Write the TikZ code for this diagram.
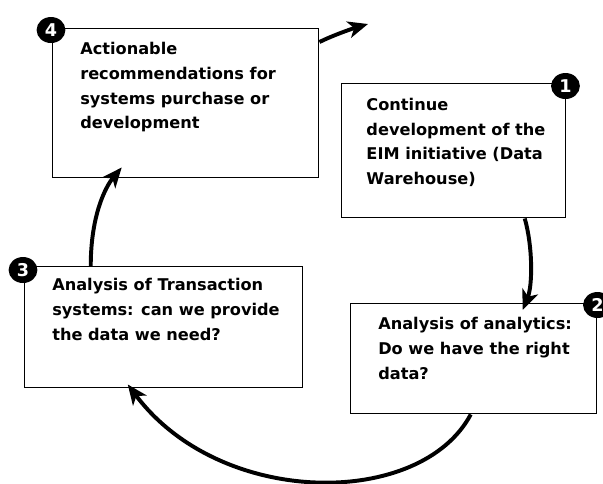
\documentclass[tikz,border=0pt]{standalone}
\usepackage{fontspec}
\setmainfont{DejaVu Sans}
\usetikzlibrary{arrows.meta, positioning, shapes.geometric}

\begin{document}
\begin{tikzpicture}[
  x=0.025cm, y=-0.025cm,
  every node/.style={font=\bfseries\fontsize{11.5}{17.5}\selectfont},
  stepbox/.style={rectangle, draw, line width=1pt, fill=white, anchor=north west, inner sep=0pt},
  steptext/.style={align=left, inner sep=0pt},
  stepnum/.style={ellipse, fill=black, text=white, minimum width=0.72cm, minimum height=0.65cm, inner sep=0pt, font=\bfseries\fontsize{12.5}{12.5}\selectfont},
  arrow/.style={-{Stealth[length=0.5cm, width=0.42cm, inset=0.14cm]}, line width=2.8pt}
]
\useasboundingbox (0,0) rectangle (603,483);

% Boxes
\node[stepbox, minimum width=6.65cm, minimum height=3.725cm] (b4) at (52,28) {};
\node[stepbox, minimum width=5.6cm, minimum height=3.35cm] (b1) at (341,83) {};
\node[stepbox, minimum width=6.15cm, minimum height=2.75cm] (b2) at (350,303) {};
\node[stepbox, minimum width=6.95cm, minimum height=3.025cm] (b3) at (24,266) {};

% Texts
\node[steptext, below right=0.36cm and 0.7cm of b4.north west] (t4) {Actionable\\recommendations for\\systems purchase or\\development};
\node[steptext, below right=0.38cm and 0.63cm of b1.north west] (t1) {Continue\\development of the\\EIM initiative (Data\\Warehouse)};
\node[steptext, below right=0.36cm and 0.7cm of b2.north west] (t2) {Analysis of analytics:\\Do we have the right\\data?};
\node[steptext, below right=0.31cm and 0.7cm of b3.north west] (t3) {Analysis of Transaction\\systems: can we provide\\the data we need?};

% Arrows
\coordinate (next) at (368,24);
\draw[arrow] ([shift={(71,0)}]b1.south) .. controls +(8,28) and +(10,-25) .. ([shift={(49,7)}]b2.north);
\draw[arrow] ([shift={(-3,0)}]b2.south) .. controls +(-50,94) and +(93,124) .. ([shift={(-36,-4)}]b3.south);
\draw[arrow] ([shift={(-73,0)}]b3.north) .. controls +(0,-51) and +(-16,19) .. ([shift={(-64,-11)}]b4.south);
\draw[arrow] ([shift={(0,14)}]b4.north east) .. controls +(12,-6) and +(-17,5) .. (next);

% Step numbers
\node[stepnum] (n1) at ([shift={(-1,3)}]b1.north east) {1};
\node[stepnum] (n2) at ([shift={(0,2)}]b2.north east) {2};
\node[stepnum] (n3) at ([shift={(-1,4)}]b3.north west) {3};
\node[stepnum] (n4) at ([shift={(-1,2)}]b4.north west) {4};

\end{tikzpicture}
\end{document}
